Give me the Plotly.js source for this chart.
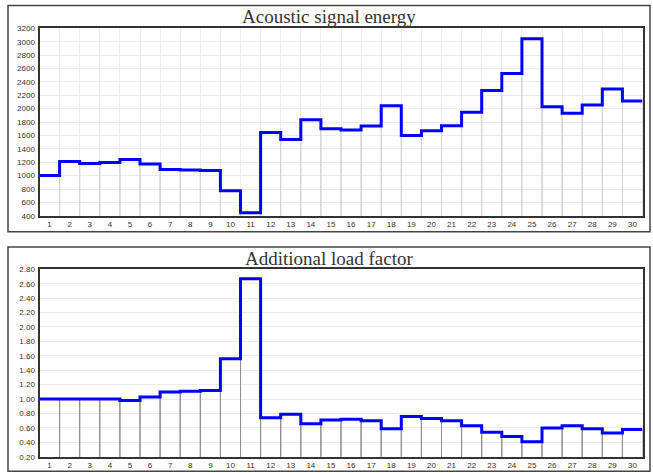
<!DOCTYPE html>
<html>
<head>
<meta charset="utf-8">
<script src="https://cdn.plot.ly/plotly-3.0.1.min.js"></script>
<style>html,body{margin:0;padding:0;background:#fff;}#chart{width:653px;height:473px;}</style>
</head>
<body>
<div id="chart"></div>
<script>
const categories = [1,2,3,4,5,6,7,8,9,10,11,12,13,14,15,16,17,18,19,20,21,22,23,24,25,26,27,28,29,30];
const energyValues = [1000,1210,1180,1195,1240,1175,1090,1085,1075,775,445,1645,1540,1835,1700,1680,1740,2045,1600,1670,1745,1945,2270,2525,3045,2030,1930,2055,2295,2115];
const loadValues = [1.00,1.00,1.00,1.00,0.98,1.03,1.10,1.11,1.12,1.56,2.67,0.74,0.79,0.66,0.71,0.72,0.70,0.59,0.76,0.73,0.70,0.63,0.54,0.48,0.41,0.60,0.63,0.59,0.53,0.58];
const energyTicks = [400,600,800,1000,1200,1400,1600,1800,2000,2200,2400,2600,2800,3000,3200];
const loadTicks = [0.2,0.4,0.6,0.8,1.0,1.2,1.4,1.6,1.8,2.0,2.2,2.4,2.6,2.8];
const titles = ["Acoustic signal energy", "Additional load factor"];

const W = 653, H = 473;
function stepX(cats){ return cats.map(c => c - 0.5).concat([cats[cats.length-1] + 0.5]); }
function stepY(vals){ return vals.concat([vals[vals.length-1]]); }

const traces = [
  {type:'bar', x:categories, y:energyValues, width:1, xaxis:'x', yaxis:'y',
   marker:{color:'rgba(0,0,0,0)', line:{color:'#d4d4d4', width:1}}, hoverinfo:'skip'},
  {type:'scatter', mode:'lines', x:stepX(categories), y:stepY(energyValues), xaxis:'x', yaxis:'y',
   line:{shape:'hv', color:'#0000ff', width:3}},
  {type:'bar', x:categories, y:loadValues, width:1, xaxis:'x2', yaxis:'y2',
   marker:{color:'rgba(0,0,0,0)', line:{color:'#8c8c8c', width:1}}, hoverinfo:'skip'},
  {type:'scatter', mode:'lines', x:stepX(categories), y:stepY(loadValues), xaxis:'x2', yaxis:'y2',
   line:{shape:'hv', color:'#0000ff', width:3}}
];

const tickFont = {family:'Liberation Sans, Arial, sans-serif', size:8, color:'#333'};
const xdom = [39.5/W, 642.5/W];
function xaxis(anchor, vgrid){
  return {domain:xdom, anchor:anchor, range:[0.5,30.5], tickvals:categories, ticktext:categories.map(String),
    showgrid:false, zeroline:false, showline:true, mirror:true, linecolor:'#333', linewidth:2,
    ticks:'', tickfont:tickFont, fixedrange:true,
    minor: vgrid ? {tick0:0.5, dtick:1, showgrid:true, gridcolor:'#ececec', gridwidth:1, ticks:''} : undefined};
}
function yaxis(anchor, dom, rng, ticks, fmt){
  return {domain:dom, anchor:anchor, range:rng, tickvals:ticks, ticktext:ticks.map(fmt),
    showgrid:true, gridcolor:'#ebebeb', gridwidth:1, zeroline:false, showline:true, mirror:true,
    linecolor:'#333', linewidth:2, ticks:'', tickfont:tickFont, ticklabelstandoff:1, fixedrange:true};
}

const layout = {
  width:W, height:H, margin:{l:0,r:0,t:0,b:0}, showlegend:false,
  paper_bgcolor:'#fff', plot_bgcolor:'#fff', barmode:'overlay',
  xaxis: xaxis('y', true),
  yaxis: yaxis('x', [1-215.8/H, 1-28.3/H], [400,3200], energyTicks, v => String(v)),
  xaxis2: xaxis('y2', false),
  yaxis2: yaxis('x2', [1-456.8/H, 1-269.3/H], [0.2,2.8], loadTicks, v => v.toFixed(2)),
  shapes:[
    {type:'rect', xref:'paper', yref:'paper', x0:8/W, x1:650/W, y0:1-231.7/H, y1:1-5.5/H, line:{color:'#444', width:1.5}},
    {type:'rect', xref:'paper', yref:'paper', x0:8/W, x1:650/W, y0:1-471.3/H, y1:1-247/H, line:{color:'#444', width:1.5}}
  ],
  annotations:[
    {text:titles[0], xref:'paper', yref:'paper', x:329/W, y:1-17/H, xanchor:'center', yanchor:'middle', showarrow:false,
     font:{family:'Liberation Serif, Times New Roman, serif', size:19, color:'#333'}},
    {text:titles[1], xref:'paper', yref:'paper', x:329/W, y:1-258/H, xanchor:'center', yanchor:'middle', showarrow:false,
     font:{family:'Liberation Serif, Times New Roman, serif', size:19, color:'#333'}}
  ]
};

Plotly.newPlot('chart', traces, layout, {displayModeBar:false, staticPlot:true});
</script>
</body>
</html>
